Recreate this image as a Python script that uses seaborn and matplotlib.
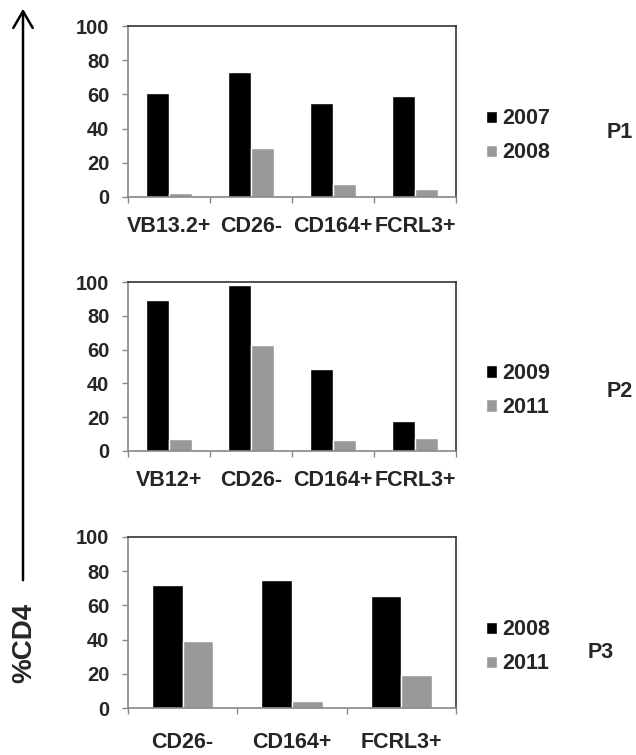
import pandas as pd
import matplotlib
matplotlib.use("Agg")
import matplotlib.pyplot as plt
import seaborn as sns

# panel data
p1_markers = ["VB13.2+", "CD26-", "CD164+", "FCRL3+"]
p1_years = ["2007", "2008"]
p1_first = [61, 73, 55, 59]
p1_second = [2.5, 28.5, 7.5, 4.5]

p2_markers = ["VB12+", "CD26-", "CD164+", "FCRL3+"]
p2_years = ["2009", "2011"]
p2_first = [89.5, 98, 48.5, 18]
p2_second = [7.3, 62.5, 6.7, 7.7]

p3_markers = ["CD26-", "CD164+", "FCRL3+"]
p3_years = ["2008", "2011"]
p3_first = [72, 75, 65.5]
p3_second = [39, 4, 19.3]

panel_names = ["P1", "P2", "P3"]
yticks = [0, 20, 40, 60, 80, 100]

sns.set_style("white")
plt.rcParams["font.family"] = ["Liberation Sans", "DejaVu Sans"]

fig = plt.figure(figsize=(6.36, 7.55), dpi=100)

def long_df(markers, years, first, second):
    rows = []
    for m, v in zip(markers, first):
        rows.append({"marker": m, "year": years[0], "pct": v})
    for m, v in zip(markers, second):
        rows.append({"marker": m, "year": years[1], "pct": v})
    return pd.DataFrame(rows)

panels = [
    (p1_markers, p1_years, p1_first, p1_second),
    (p2_markers, p2_years, p2_first, p2_second),
    (p3_markers, p3_years, p3_first, p3_second),
]

# axes boxes in pixels: (top, bottom)
boxes = [(26, 197), (282, 451), (537, 708)]
xpads = [14, 14, 17]
plabel_pos = [(1.50, 0.38), (1.50, 0.353), (1.442, 0.327)]
W, H = 636, 755

for i, (markers, years, first, second) in enumerate(panels):
    top, bot = boxes[i]
    ax = fig.add_axes([128 / W, 1 - bot / H, 328 / W, (bot - top) / H])
    df = long_df(markers, years, first, second)
    sns.barplot(data=df, x="marker", y="pct", hue="year", order=markers,
                hue_order=years, palette=["#000000", "#999999"],
                width=0.56, gap=0, saturation=1, ax=ax, errorbar=None)
    n = len(markers)
    ax.set_xlim(-0.5, n - 0.5)
    ax.set_ylim(0, 100)
    ax.set_yticks(yticks)
    ax.set_xlabel("")
    ax.set_ylabel("")
    ax.tick_params(axis="y", left=True, length=4.5, width=1, color="#888888",
                   pad=9, labelsize=14.5)
    ax.tick_params(axis="x", which="major", bottom=False, length=0,
                   pad=xpads[i], labelsize=15.5)
    ax.set_xticks([k - 0.5 for k in range(n + 1)], minor=True)
    ax.tick_params(axis="x", which="minor", bottom=True, length=4.5, width=1,
                   color="#888888")
    for lab in ax.get_xticklabels() + ax.get_yticklabels():
        lab.set_fontweight("bold")
    ax.spines["left"].set_color("#888888")
    ax.spines["bottom"].set_color("#888888")
    ax.spines["top"].set_color("#333333")
    ax.spines["right"].set_color("#333333")
    for s in ax.spines.values():
        s.set_linewidth(1.2)
    ax.legend(loc="center left", bbox_to_anchor=(1.091, 0.357), frameon=False,
              handlelength=0.5, handleheight=0.5,
              handletextpad=0.25, labelspacing=0.6, borderpad=0,
              borderaxespad=0, prop={"weight": "bold", "size": 15.5})
    px, py = plabel_pos[i]
    ax.text(px, py, panel_names[i], transform=ax.transAxes, fontsize=15.5,
            fontweight="bold", ha="center", va="center")

# vertical arrow with the %CD4 label
fig.add_artist(matplotlib.patches.FancyArrowPatch(
    (23 / W, 1 - 583 / H), (23 / W, 1 - 6 / H), transform=fig.transFigure,
    arrowstyle="->,head_length=0.6,head_width=0.35", mutation_scale=20,
    linewidth=1.8, color="black"))
fig.text(24 / W, 1 - 643 / H, "%CD4", rotation=90, fontsize=20,
         fontweight="bold", ha="center", va="center")

fig.savefig("out.png", dpi=100)
